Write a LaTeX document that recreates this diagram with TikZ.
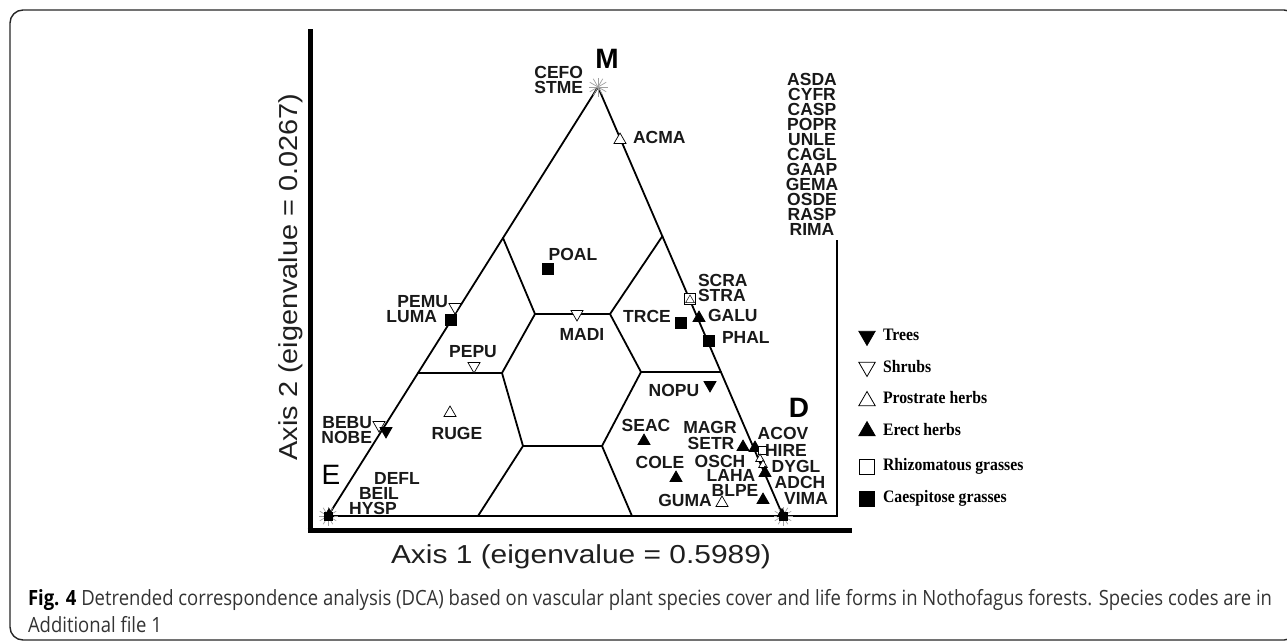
\documentclass[tikz,border=0pt]{standalone}
\usepackage{fontspec}
\usepackage{graphicx}
\setmainfont{Liberation Sans}
\newfontfamily\lsans{Liberation Sans}
\newfontfamily\legfont{Liberation Serif}[FakeStretch=0.9]
\newfontfamily\capfont{Open Sans}
\usetikzlibrary{shapes.geometric}
\newsavebox\fitbox
\newcommand\astar[3]{\coordinate (#1) at (#2,#3);
  \foreach \a in {0,30,...,330} \draw[gray!75, line width=0.7pt] (#1) -- ++(\a:9.5);}
\tikzset{
 every node/.style={inner sep=0pt, outer sep=0pt},
 sp/.style={font=\lsans\bfseries\fontsize{17.5}{15}\selectfont, align=center, text=black!90},
 bigl/.style={font=\lsans\bfseries\fontsize{28}{30}\selectfont},
 legl/.style={font=\legfont\bfseries\fontsize{17.5}{18}\selectfont, anchor=base west},
 tri/.style={regular polygon, regular polygon sides=3, minimum size=14pt, draw=black, line width=0.7pt},
 otri/.style={tri, fill=white},
 ftri/.style={tri, fill=black},
 odtri/.style={tri, fill=white, shape border rotate=180},
 fdtri/.style={tri, fill=black, shape border rotate=180},
 sq/.style={rectangle, minimum size=11pt, draw=black, line width=0.7pt},
 osq/.style={sq, fill=white},
 fsq/.style={sq, fill=black},
 edgeline/.style={line width=1.8pt, line join=round, line cap=round},
 axisline/.style={line width=5pt},
 frame/.style={line width=1.4pt, draw=black!85, rounded corners=13pt},
}
\begin{document}
\sbox\fitbox{\lsans\fontsize{26}{28}\selectfont Axis 1 (eigenvalue = 0.5989)}%
\pgfmathsetmacro\axratioA{380/\the\wd\fitbox}%
\sbox\fitbox{\lsans\fontsize{26}{28}\selectfont Axis 2 (eigenvalue = 0.0267)}%
\pgfmathsetmacro\axratioB{367/\the\wd\fitbox}%
\sbox\fitbox{\capfont\fontsize{21}{27}\selectfont\textbf{Fig. 4} Detrended correspondence analysis (DCA) based on vascular plant species cover and life forms in Nothofagus forests. Species codes are in}%
\pgfmathsetmacro\capratio{1244/\the\wd\fitbox}%
\begin{tikzpicture}[x=1pt,y=-1pt]
\useasboundingbox (0,0) rectangle (1287,643);
% outer frame
\draw[frame] (10,10) rectangle (1297,640);

% axes
\coordinate (yt) at (310,29);
\coordinate (o) at (310,530);
\coordinate (xr) at (852,530);
\draw[axisline] (yt) -- (310,532.5);
\draw[axisline] (307.5,530) -- (xr);

% triangle vertices
\coordinate (E) at (328,516);
\coordinate (M) at (598,87);
\coordinate (D) at (783,516);
\coordinate (fc) at (837,516);
\coordinate (ft) at (837,240);
\draw[edgeline] (E) -- (M) -- (D);
\draw[line width=1.5pt] (E) -- (fc) -- (ft);

% inner partition
\coordinate (A1) at (503,238);
\coordinate (A2) at (535,314);
\coordinate (A3) at (610,314);
\coordinate (A4) at (662.5,236);
\coordinate (B1) at (418,373);
\coordinate (B2) at (502,373);
\coordinate (C1) at (641,372);
\coordinate (C2) at (721,372);
\coordinate (D1) at (523,446);
\coordinate (D2) at (602,446);
\coordinate (F1) at (478,516);
\coordinate (F2) at (632,516);
\draw[edgeline] (A1) -- (A2) -- (A3) -- (A4);
\draw[edgeline] (A2) -- (B2) -- (B1);
\draw[edgeline] (A3) -- (C1) -- (C2);
\draw[edgeline] (B2) -- (D1) -- (D2) -- (C1);
\draw[edgeline] (D1) -- (F1);
\draw[edgeline] (D2) -- (F2);

% vertex stars
\astar{sM}{598}{87}
\astar{sE}{328}{516}
\astar{sD}{783}{516}
\node[fsq, minimum size=8pt] (bE) at (sE) {};
\node[ftri, minimum size=11pt] (bE2) at (329,514) {};
\node[fsq, minimum size=8pt] (bD) at (sD) {};
\node[ftri, minimum size=11pt] (bD2) at (782,514) {};

% vertex letters
\node[bigl] (lM) at (607,59) {M};
\node[bigl] (lD) at (799,408) {D};
\node[font=\lsans\fontsize{28}{30}\selectfont] (lE) at (331,475) {E};

% symbols
\node[otri] (s-acma) at (620,140) {};
\node[fsq] (s-poal) at (548,269) {};
\node[osq] (s-scra) at (690,299) {};
\node[otri, minimum size=10pt, line width=0.5pt] (s-stra) at (690,300) {};
\node[odtri] (s-pemu) at (455,307) {};
\node[fsq] (s-luma) at (451,320) {};
\node[odtri] (s-madi) at (577,314) {};
\node[fsq] (s-trce) at (681,323) {};
\node[ftri] (s-galu) at (699,318) {};
\node[fsq] (s-phal) at (709,341) {};
\node[odtri] (s-pepu) at (474,366) {};
\node[fdtri] (s-nopu) at (710,385) {};
\node[otri] (s-ruge) at (450,413) {};
\node[ftri] (s-seac) at (644,441) {};
\node[ftri] (s-setr) at (743,447) {};
\node[ftri] (s-acov) at (755,448) {};
\node[osq, minimum size=8pt] (s-hire) at (762,450) {};
\node[otri, minimum size=10pt] (s-osch) at (760,459) {};
\node[otri, minimum size=10pt] (s-dygl) at (763,465) {};
\node[ftri] (s-adch) at (765,473) {};
\node[ftri] (s-cole) at (676,478) {};
\node[otri] (s-guma) at (722,503) {};
\node[ftri] (s-blpe) at (763,500) {};
\node[odtri] (s-bebu) at (379,425) {};
\node[fdtri] (s-nobe) at (386,431) {};

% species labels
\node[sp, anchor=east, align=right] (l-cefo) at (583,79.5) {CEFO\\STME};
\node[sp, anchor=west] (l-acma) at (633,137) {ACMA};
\node[sp] (l-poal) at (573,254) {POAL};
\node[sp, anchor=west, align=left] (l-scra) at (698,287.5) {SCRA\\STRA};
\node[sp, anchor=east] (l-pemu) at (448,302) {PEMU};
\node[sp, anchor=east] (l-luma) at (437,317) {LUMA};
\node[sp] (l-madi) at (582,334) {MADI};
\node[sp] (l-trce) at (647,316) {TRCE};
\node[sp, anchor=west] (l-galu) at (708,315) {GALU};
\node[sp, anchor=west] (l-phal) at (722,337) {PHAL};
\node[sp] (l-pepu) at (473,352) {PEPU};
\node[sp] (l-nopu) at (674,390) {NOPU};
\node[sp] (l-ruge) at (457,433) {RUGE};
\node[sp] (l-seac) at (646,425) {SEAC};
\node[sp] (l-magr) at (710,427) {MAGR};
\node[sp] (l-setr) at (711,443.5) {SETR};
\node[sp] (l-acov) at (783,433) {ACOV};
\node[sp] (l-hire) at (786,450) {HIRE};
\node[sp] (l-dygl) at (796,466) {DYGL};
\node[sp] (l-adch) at (800,482) {ADCH};
\node[sp] (l-vima) at (806,498) {VIMA};
\node[sp] (l-cole) at (660,462) {COLE};
\node[sp] (l-osch) at (720,461) {OSCH};
\node[sp] (l-laha) at (731,475.5) {LAHA};
\node[sp] (l-blpe) at (735,490) {BLPE};
\node[sp] (l-guma) at (685,500) {GUMA};
\node[sp, anchor=east, align=right] (l-bebu) at (372,430) {BEBU\\NOBE};
\node[sp] (l-defl) at (397,478) {DEFL};
\node[sp] (l-beil) at (379,493) {BEIL};
\node[sp] (l-hysp) at (373,508.5) {HYSP};
\node[sp, anchor=north] (l-list) at (812,73.5) {ASDA\\CYFR\\CASP\\POPR\\UNLE\\CAGL\\GAAP\\GEMA\\OSDE\\RASP\\RIMA};

% axis labels
\node[anchor=base, text=black!88] (ax1) at (581,563) {\scalebox{\axratioA}[1]{\lsans\fontsize{26}{28}\selectfont Axis 1 (eigenvalue = 0.5989)}};
\node[anchor=base, rotate=90, text=black!88] (ax2) at (297,277) {\scalebox{\axratioB}[1]{\lsans\fontsize{26}{28}\selectfont Axis 2 (eigenvalue = 0.0267)}};

% legend
\node[fdtri, minimum size=19pt] (g1) at (867,336) {};
\node[odtri, minimum size=19pt, line width=0.8pt] (g2) at (867,367) {};
\node[otri, minimum size=19pt, line width=0.8pt] (g3) at (867,401) {};
\node[ftri, minimum size=19pt] (g4) at (867,431) {};
\node[osq, minimum size=15pt, line width=0.8pt] (g5) at (867,467) {};
\node[fsq, minimum size=15pt] (g6) at (867,499) {};
\node[legl] (t1) at (883,340) {Trees};
\node[legl] (t2) at (883,372) {Shrubs};
\node[legl] (t3) at (883,403) {Prostrate herbs};
\node[legl] (t4) at (883,435) {Erect herbs};
\node[legl] (t5) at (883,470) {Rhizomatous grasses};
\node[legl] (t6) at (883,502) {Caespitose grasses};

% caption
\node[anchor=base west, text=black!80] (cap1) at (28,605) {\scalebox{\capratio}[1]{\capfont\fontsize{21}{27}\selectfont\textbf{\color{black}Fig. 4} Detrended correspondence analysis (DCA) based on vascular plant species cover and life forms in Nothofagus forests. Species codes are in}};
\node[anchor=base west, text=black!80] (cap2) at (28,632) {\scalebox{\capratio}[1]{\capfont\fontsize{21}{27}\selectfont Additional file 1}};
\end{tikzpicture}
\end{document}
